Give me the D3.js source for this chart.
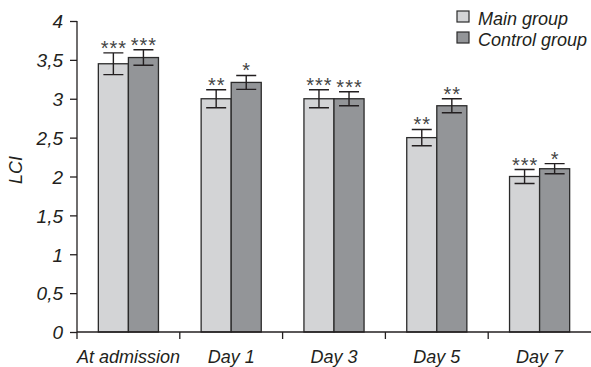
<!DOCTYPE html>
<html>
<head>
<meta charset="utf-8">
<script src="https://cdn.jsdelivr.net/npm/d3@7"></script>
<style>
body { margin: 0; background: #fff; }
text { font-family: "Liberation Sans", Arial, sans-serif; font-style: italic; fill: #231f20; }
</style>
</head>
<body>
<script>
var width = 591, height = 367;

var categories = ["At admission", "Day 1", "Day 3", "Day 5", "Day 7"];
var groups = ["Main group", "Control group"];
var mainValues = [3.45, 3.0, 3.0, 2.5, 2.0];
var controlValues = [3.53, 3.21, 3.0, 2.91, 2.1];
var mainErrors = [0.14, 0.115, 0.115, 0.105, 0.09];
var controlErrors = [0.1, 0.09, 0.09, 0.09, 0.065];
var mainStars = ["***", "**", "***", "**", "***"];
var controlStars = ["***", "*", "***", "**", "*"];
var yTicks = [0, 0.5, 1, 1.5, 2, 2.5, 3, 3.5, 4];
var colors = ["#d3d4d6", "#939598"];

var svg = d3.select("body").append("svg")
    .attr("width", width)
    .attr("height", height);

var x0 = d3.scaleBand().domain(categories).range([77, 591]);
var x1 = d3.scaleBand().domain(groups).range([0, x0.bandwidth()]).paddingOuter(0.71);
var y = d3.scaleLinear().domain([0, 4]).range([332, 21]);

var data = [];
categories.forEach(function(c, i){
	data.push({cat:c, g:groups[0], v:mainValues[i], e:mainErrors[i], s:mainStars[i], col:colors[0]});
	data.push({cat:c, g:groups[1], v:controlValues[i], e:controlErrors[i], s:controlStars[i], col:colors[1]});
});

// bars
svg.append("g").selectAll("rect")
	.data(data)
	.enter().append("rect")
	.attr("x", function(d){ return x0(d.cat) + x1(d.g); })
	.attr("y", function(d){ return y(d.v); })
	.attr("width", x1.bandwidth())
	.attr("height", function(d){ return y(0) - y(d.v); })
	.attr("fill", function(d){ return d.col; })
	.attr("stroke", "#2b2b2b")
	.attr("stroke-width", 1.3);

// error bars
var err = svg.append("g").attr("stroke", "#231f20").attr("stroke-width", 1.4).attr("fill", "none");
err.selectAll("path")
	.data(data)
	.enter().append("path")
	.attr("d", function(d){
		var cx = x0(d.cat) + x1(d.g) + x1.bandwidth()/2;
		var t = y(d.v + d.e), b = y(d.v - d.e);
		return "M" + (cx-10) + "," + t + "H" + (cx+10) + "M" + cx + "," + t + "V" + b + "M" + (cx-10) + "," + b + "H" + (cx+10);
	});

// stars
svg.append("g").selectAll("text")
	.data(data)
	.enter().append("text")
	.attr("x", function(d){ return x0(d.cat) + x1(d.g) + x1.bandwidth()/2 + 0.5; })
	.attr("y", function(d){ return y(d.v + d.e) + 2; })
	.attr("text-anchor", "middle")
	.style("font-size", "20px")
	.style("letter-spacing", "1px")
	.style("font-style", "normal")
	.style("fill", "#444")
	.text(function(d){ return d.s; });

// y axis
var yAxis = svg.append("g")
	.attr("transform", "translate(77,0)")
	.call(d3.axisLeft(y).tickValues(yTicks).tickSize(7).tickPadding(7)
		.tickFormat(function(d){ return String(d).replace(".", ","); }));
yAxis.select(".domain").attr("stroke", "#231f20").attr("stroke-width", 1.3).attr("d", "M0," + y(4) + "V" + y(0));
yAxis.selectAll(".tick line").attr("stroke", "#231f20").attr("stroke-width", 1.3);
yAxis.selectAll(".tick text").style("font-size", "19px").attr("fill", "#231f20").attr("dy", "0.36em");

// x axis
var xAxis = svg.append("g")
	.attr("transform", "translate(0," + y(0) + ")");
xAxis.append("path")
	.attr("d", "M77,0H591")
	.attr("stroke", "#231f20").attr("stroke-width", 1.3);
var bounds = categories.map(function(c){ return x0(c); });
xAxis.selectAll("line")
	.data(bounds)
	.enter().append("line")
	.attr("x1", function(d){ return d; }).attr("x2", function(d){ return d; })
	.attr("y1", 0).attr("y2", 7)
	.attr("stroke", "#231f20").attr("stroke-width", 1.3);
xAxis.selectAll("text")
	.data(categories)
	.enter().append("text")
	.attr("x", function(d){ return x0(d) + x0.bandwidth()/2; })
	.attr("y", 31)
	.attr("text-anchor", "middle")
	.style("font-size", "18px")
	.text(function(d){ return d; });

// y label
svg.append("text")
	.attr("transform", "translate(22,170) rotate(-90)")
	.attr("text-anchor", "middle")
	.style("font-size", "18px")
	.text("LCI");

// legend
var legend = svg.append("g").selectAll("g")
	.data(groups)
	.enter().append("g")
	.attr("transform", function(d, i){ return "translate(457," + (11 + i*21) + ")"; });
legend.append("rect")
	.attr("width", 12).attr("height", 11)
	.attr("fill", function(d, i){ return colors[i]; })
	.attr("stroke", "#2b2b2b").attr("stroke-width", 1.2);
legend.append("text")
	.attr("x", 21).attr("y", 14)
	.style("font-size", "18px")
	.text(function(d){ return d; });
</script>
</body>
</html>
